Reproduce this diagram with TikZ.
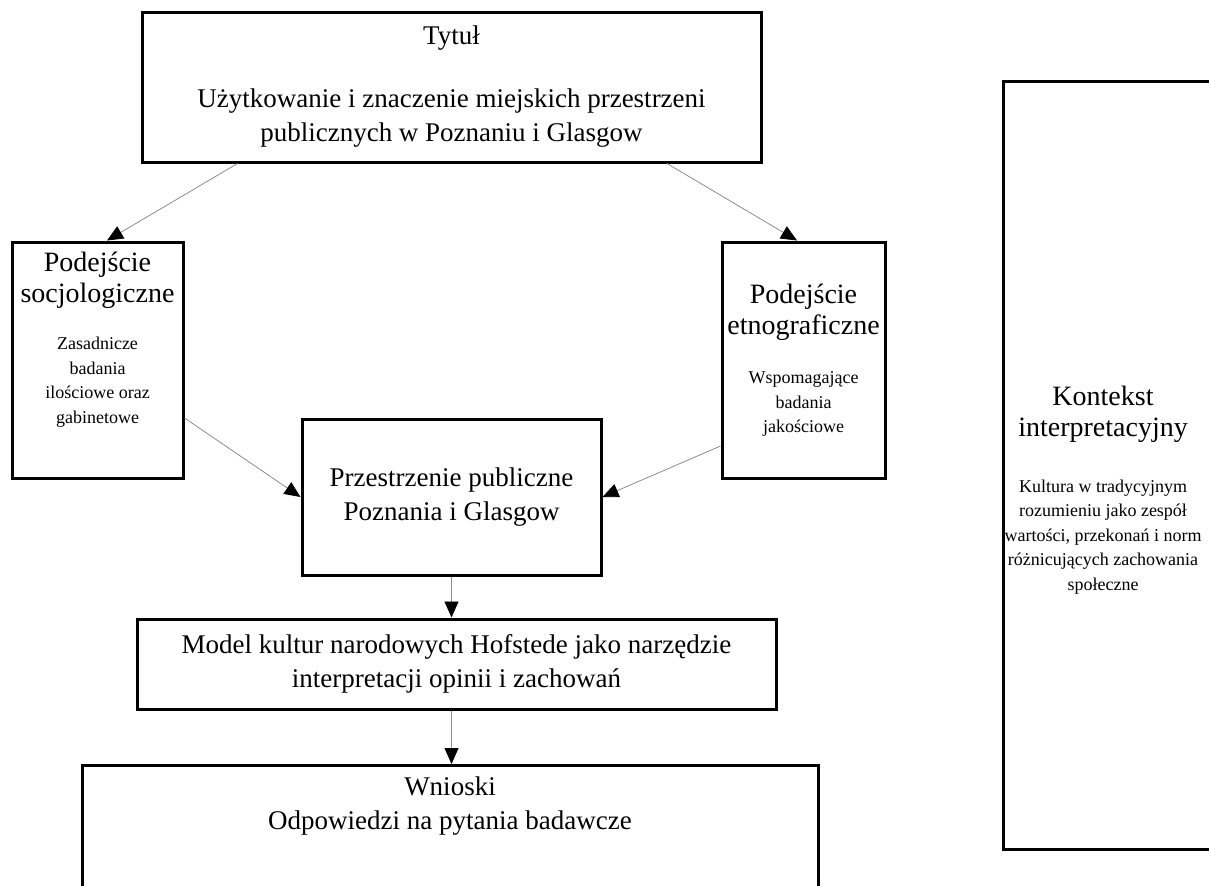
\documentclass[tikz,border=0pt]{standalone}
\usepackage{fontspec}
\setmainfont{Liberation Serif}
\usepackage{tikz}
\usetikzlibrary{arrows.meta, positioning}

\newcommand{\mainsize}{\fontsize{13.5}{17}\selectfont}
\newcommand{\headsize}{\fontsize{14}{15.5}\selectfont}
\newcommand{\notesize}{\fontsize{9}{12.3}\selectfont}

\tikzset{
  box/.style={draw, line width=1.5pt, align=center, inner sep=0pt},
  txt/.style={align=center, inner sep=0pt},
  link/.style={-{Triangle[length=8pt, width=7pt, color=black]}, line width=0.4pt, black!45},
}

\begin{document}
\begin{tikzpicture}[x=0.5pt, y=-0.5pt]
        \clip (0,0) rectangle (1209,885);

        % Title
        \node[box, minimum width=309.5pt, minimum height=75pt, font=\mainsize] (title) at (451.5,87)
        {Tytuł\\[14.5pt] Użytkowanie i znaczenie miejskich przestrzeni\\ publicznych w Poznaniu i Glasgow};

        % Sociological approach
        \node[box, minimum width=85.5pt, minimum height=118pt] (socio) at (97.5,360) {};
        \node[txt, font=\headsize] (sociohead) at (97.5,280) {Podejście\\ socjologiczne};
        \node[txt, font=\notesize] (socionote) at (97.5,382) {Zasadnicze\\ badania\\ ilościowe oraz\\ gabinetowe};

        % Ethnographic approach
        \node[box, minimum width=81.5pt, minimum height=118pt] (ethno) at (803.5,360) {};
        \node[txt, font=\headsize] (ethnohead) at (803.5,312) {Podejście\\ etnograficzne};
        \node[txt, font=\notesize] (ethnonote) at (803.5,404) {Wspomagające\\ badania\\ jakościowe};

        % Public spaces
        \node[box, minimum width=149.5pt, minimum height=78pt, font=\mainsize] (space) at (451.5,497)
        {Przestrzenie publiczne\\ Poznania i Glasgow};

        % Hofstede model
        \node[box, minimum width=319.5pt, minimum height=45pt, font=\mainsize] (model) at (456.5,664)
        {Model kultur narodowych Hofstede jako narzędzie\\ interpretacji opinii i zachowań};

        % Conclusions
        \node[box, minimum width=368pt, minimum height=120pt, anchor=north] (concl) at (450,764) {};
        \node[txt, font=\mainsize] (concltext) at (450,806) {Wnioski\\ Odpowiedzi na pytania badawcze};

        % Interpretive context
        \node[box, minimum width=113pt, minimum height=384pt] (context) at (1116,465) {};
        \node[txt, font=\headsize] (contexthead) at (1103,414) {Kontekst\\ interpretacyjny};
        \node[txt, font=\notesize] (contextnote) at (1103,537) {Kultura w tradycyjnym\\ rozumieniu jako zespół\\ wartości, przekonań i norm\\ różnicujących zachowania\\ społeczne};

        % Arrows
        \draw[link] ([xshift=-107pt]title.south) -- ([xshift=4.75pt]socio.north);
        \draw[link] ([xshift=107.75pt]title.south) -- ([xshift=-3.25pt]ethno.north);
        \draw[link] ([yshift=-29pt]socio.east) -- (space.west);
        \draw[link] ([yshift=-43pt]ethno.west) -- (space.east);
        \draw[link] (space.south) -- (space.south |- model.north);
        \draw[link] (model.south -| space.south) -- (concl.north -| space.south);
    \end{tikzpicture}
\end{document}
